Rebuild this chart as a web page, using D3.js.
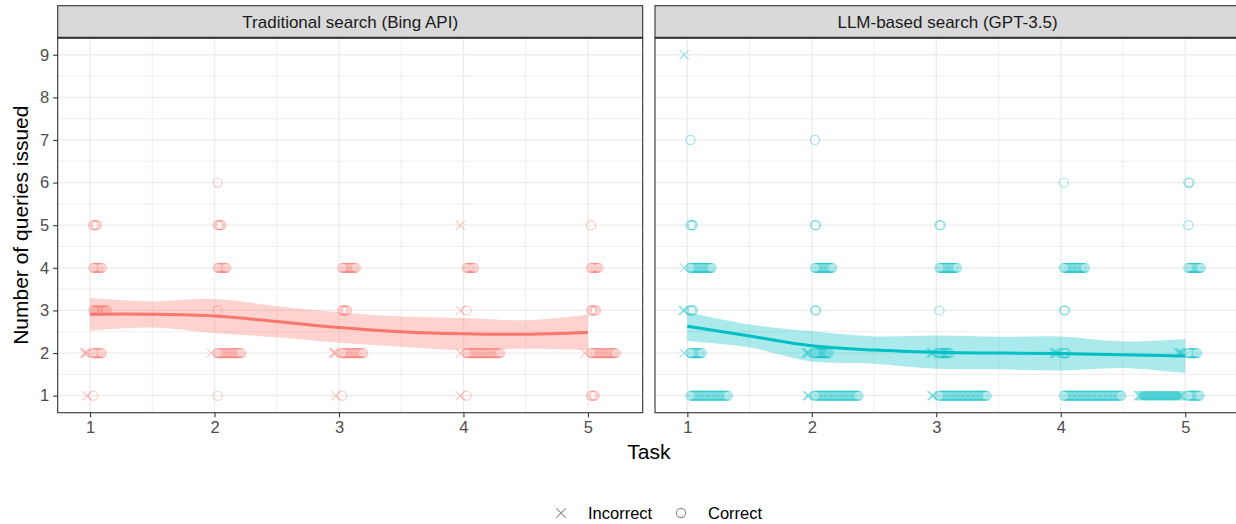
<!DOCTYPE html>
<html>
<head>
<meta charset="utf-8">
<script src="https://cdn.jsdelivr.net/npm/d3@7"></script>
<style>
  html, body { margin: 0; padding: 0; background: #fff; }
  svg { display: block; font-family: "Liberation Sans", Arial, Helvetica, sans-serif; }
</style>
</head>
<body>
<svg id="chart" width="1236" height="524"></svg>
<script>
// ---------------- DATA ----------------
const panelTitles = ["Traditional search (Bing API)", "LLM-based search (GPT-3.5)"];
const panelColors = ["#F8766D", "#00BFC4"];
const xTicks = [1, 2, 3, 4, 5];
const yTicks = [1, 2, 3, 4, 5, 6, 7, 8, 9];
const outcomeLabels = ["Incorrect", "Correct"];
const xTitle = "Task";
const yTitle = "Number of queries issued";

// clusters: [task, queries, nIncorrect, nCorrect]
const bingCounts = [
  [1,5,0,4],[1,4,0,8],[1,3,0,12],[1,2,3,8],[1,1,1,1],
  [2,6,0,1],[2,5,0,4],[2,4,0,8],[2,3,0,1],[2,2,1,20],[2,1,0,1],
  [3,4,0,12],[3,3,0,5],[3,2,3,18],[3,1,1,1],
  [4,5,1,0],[4,4,0,7],[4,3,1,1],[4,2,1,28],[4,1,1,1],
  [5,5,0,1],[5,4,0,7],[5,3,0,5],[5,2,1,21],[5,1,0,4]
];
const gptCounts = [
  [1,9,1,0],[1,7,0,1],[1,5,0,3],[1,4,1,18],[1,3,2,3],[1,2,1,10],[1,1,0,31],
  [2,7,0,1],[2,5,0,2],[2,4,0,15],[2,3,0,2],[2,2,3,12],[2,1,2,36],
  [3,5,0,2],[3,4,0,15],[3,3,0,1],[3,2,3,9],[3,1,2,39],
  [4,6,0,1],[4,4,0,18],[4,3,0,2],[4,2,4,3],[4,1,0,47],
  [5,6,0,2],[5,5,0,1],[5,4,0,11],[5,2,4,8],[5,1,36,10]
];

// loess fit
const smoothX = [1, 1.5, 2, 2.5, 3, 3.5, 4, 4.5, 5];
const bingFit   = [2.91, 2.91, 2.87, 2.74, 2.60, 2.50, 2.45, 2.44, 2.48];
const bingUpper = [3.29, 3.21, 3.27, 3.10, 2.96, 2.86, 2.82, 2.77, 2.90];
const bingLower = [2.53, 2.60, 2.47, 2.37, 2.24, 2.15, 2.07, 2.10, 2.07];
const gptFit    = [2.63, 2.40, 2.17, 2.07, 2.02, 2.00, 1.99, 1.96, 1.93];
const gptUpper  = [2.96, 2.67, 2.51, 2.39, 2.41, 2.38, 2.39, 2.27, 2.33];
const gptLower  = [2.28, 2.13, 1.80, 1.75, 1.63, 1.62, 1.59, 1.65, 1.53];

// ---------------- LAYOUT ----------------
const svg = d3.select("#chart");
const panelTop = 37.7, panelBottom = 412.7, stripTop = 5.7;
const panelX = [[57.7, 642.7], [655, 1240]];
const dodgeStart = 0.025, dodgeStep = 0.01;
const FONT = "Liberation Sans, Arial, sans-serif";

const y = d3.scaleLinear().domain([0.6, 9.4]).range([panelBottom, panelTop]);

const panels = [
  { title: panelTitles[0], color: panelColors[0], counts: bingCounts, fit: bingFit, up: bingUpper, lo: bingLower },
  { title: panelTitles[1], color: panelColors[1], counts: gptCounts, fit: gptFit, up: gptUpper, lo: gptLower }
];

const defs = svg.append("defs");

panels.forEach((p, i) => {
  const [x0, x1] = panelX[i];
  const x = d3.scaleLinear().domain([0.74, 5.44]).range([x0, x1]);
  const g = svg.append("g");
  const clipId = "clip" + i;
  defs.append("clipPath").attr("id", clipId)
    .append("rect").attr("x", x0).attr("y", panelTop).attr("width", x1 - x0).attr("height", panelBottom - panelTop);

  g.append("rect").attr("x", x0).attr("y", panelTop).attr("width", x1 - x0).attr("height", panelBottom - panelTop)
    .attr("fill", "#fff");

  // grid
  const minorX = d3.range(0.5, 6, 1).filter(v => v > 0.74 && v < 5.44);
  const minorY = d3.range(0.5, 10, 1).filter(v => v > 0.6 && v < 9.4);
  const grid = g.append("g").attr("clip-path", `url(#${clipId})`);
  grid.selectAll(".mx").data(minorX).enter().append("line")
    .attr("x1", d => x(d)).attr("x2", d => x(d)).attr("y1", panelTop).attr("y2", panelBottom)
    .attr("stroke", "#EBEBEB").attr("stroke-width", 0.9);
  grid.selectAll(".my").data(minorY).enter().append("line")
    .attr("y1", d => y(d)).attr("y2", d => y(d)).attr("x1", x0).attr("x2", x1)
    .attr("stroke", "#EBEBEB").attr("stroke-width", 0.9);
  grid.selectAll(".Mx").data(xTicks).enter().append("line")
    .attr("x1", d => x(d)).attr("x2", d => x(d)).attr("y1", panelTop).attr("y2", panelBottom)
    .attr("stroke", "#EBEBEB").attr("stroke-width", 1.3);
  grid.selectAll(".My").data(yTicks).enter().append("line")
    .attr("y1", d => y(d)).attr("y2", d => y(d)).attr("x1", x0).attr("x2", x1)
    .attr("stroke", "#EBEBEB").attr("stroke-width", 1.3);

  // points
  const pts = [];
  p.counts.forEach(([task, q, nInc, nCor]) => {
    for (let k = 0; k < nInc; k++) pts.push({ x: task - dodgeStart - k * dodgeStep, y: q, correct: false });
    for (let k = 0; k < nCor; k++) pts.push({ x: task + dodgeStart + k * dodgeStep, y: q, correct: true });
  });
  const pg = g.append("g").attr("clip-path", `url(#${clipId})`);
  pts.forEach(d => {
    const cx = x(d.x), cy = y(d.y);
    if (d.correct) {
      pg.append("circle").attr("cx", cx).attr("cy", cy).attr("r", 4.6)
        .attr("fill", "none").attr("stroke", p.color).attr("stroke-width", 1.1).attr("stroke-opacity", 0.4);
    } else {
      const s = 4.6;
      pg.append("path").attr("d", `M${cx - s},${cy - s}L${cx + s},${cy + s}M${cx - s},${cy + s}L${cx + s},${cy - s}`)
        .attr("fill", "none").attr("stroke", p.color).attr("stroke-width", 1.1).attr("stroke-opacity", 0.4);
    }
  });

  // ribbon + line
  const rib = smoothX.map((v, k) => ({ x: v, lo: p.lo[k], up: p.up[k], fit: p.fit[k] }));
  g.append("path").datum(rib)
    .attr("d", d3.area().x(d => x(d.x)).y0(d => y(d.lo)).y1(d => y(d.up)).curve(d3.curveCatmullRom))
    .attr("fill", p.color).attr("fill-opacity", 0.33).attr("stroke", "none");
  g.append("path").datum(rib)
    .attr("d", d3.line().x(d => x(d.x)).y(d => y(d.fit)).curve(d3.curveCatmullRom))
    .attr("fill", "none").attr("stroke", p.color).attr("stroke-width", 3);

  // border
  g.append("rect").attr("x", x0).attr("y", panelTop).attr("width", x1 - x0).attr("height", panelBottom - panelTop)
    .attr("fill", "none").attr("stroke", "#333").attr("stroke-width", 1.1);

  // strip
  g.append("rect").attr("x", x0).attr("y", stripTop).attr("width", x1 - x0).attr("height", panelTop - stripTop)
    .attr("fill", "#D9D9D9").attr("stroke", "#333").attr("stroke-width", 1.1);
  g.append("line").attr("x1", x0).attr("x2", x1).attr("y1", panelTop).attr("y2", panelTop)
    .attr("stroke", "#333").attr("stroke-width", 2);
  g.append("text").attr("x", (x0 + x1) / 2).attr("y", (stripTop + panelTop) / 2 + 5.8)
    .attr("text-anchor", "middle").attr("font-size", 17).attr("fill", "#1A1A1A").text(p.title);

  // x axis
  const xa = g.append("g").attr("transform", `translate(0,${panelBottom})`)
    .call(d3.axisBottom(x).tickValues(xTicks).tickSize(4.5).tickPadding(4).tickFormat(d3.format("d")));
  xa.select(".domain").remove();
  xa.selectAll("line").attr("stroke", "#333").attr("stroke-width", 1.1);
  xa.selectAll("text").attr("font-size", 16.5).attr("fill", "#4D4D4D").attr("font-family", FONT);

  if (i === 0) {
    const ya = g.append("g").attr("transform", `translate(${x0},0)`)
      .call(d3.axisLeft(y).tickValues(yTicks).tickSize(4.5).tickPadding(4).tickFormat(d3.format("d")));
    ya.select(".domain").remove();
    ya.selectAll("line").attr("stroke", "#333").attr("stroke-width", 1.1);
    ya.selectAll("text").attr("font-size", 16.5).attr("fill", "#4D4D4D").attr("font-family", FONT);
  }
});

// axis titles
svg.append("text").attr("x", (57.7 + 1240) / 2).attr("y", 459).attr("text-anchor", "middle")
  .attr("font-size", 21).attr("fill", "#000").text(xTitle);
svg.append("text").attr("transform", `translate(28,${(panelTop + panelBottom) / 2}) rotate(-90)`)
  .attr("text-anchor", "middle").attr("font-size", 21).attr("fill", "#000").text(yTitle);

// legend
const lg = svg.append("g");
const legendItems = [
  { label: outcomeLabels[0], sx: 561, tx: 588, shape: "x" },
  { label: outcomeLabels[1], sx: 681, tx: 708, shape: "o" }
];
legendItems.forEach(it => {
  const cy = 513, s = 4.6;
  if (it.shape === "x") {
    lg.append("path").attr("d", `M${it.sx - s},${cy - s}L${it.sx + s},${cy + s}M${it.sx - s},${cy + s}L${it.sx + s},${cy - s}`)
      .attr("stroke", "#000").attr("stroke-opacity", 0.45).attr("stroke-width", 1.1).attr("fill", "none");
  } else {
    lg.append("circle").attr("cx", it.sx).attr("cy", cy).attr("r", s)
      .attr("stroke", "#000").attr("stroke-opacity", 0.45).attr("stroke-width", 1.1).attr("fill", "none");
  }
  lg.append("text").attr("x", it.tx).attr("y", cy + 5.8).attr("font-size", 16.5).attr("fill", "#000").text(it.label);
});
</script>
</body>
</html>
